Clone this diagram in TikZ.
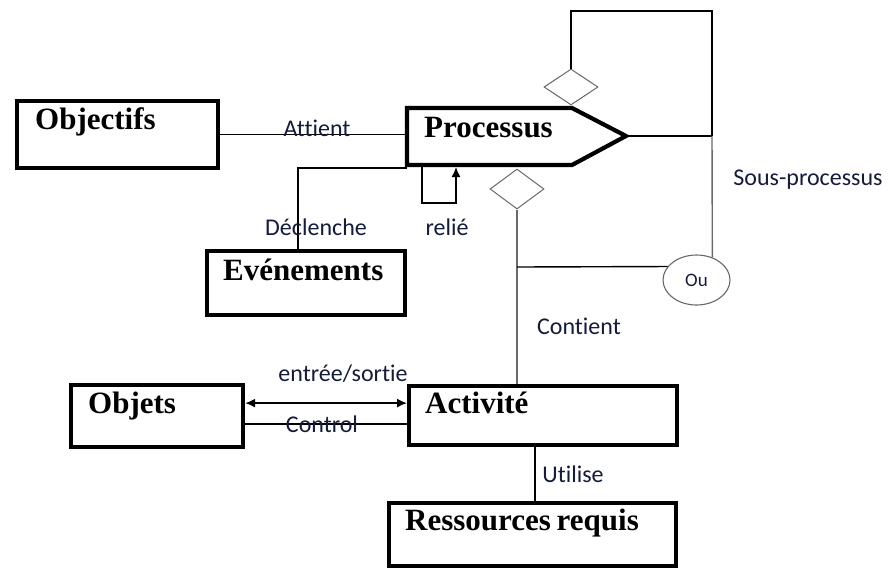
\documentclass[tikz,border=0pt]{standalone}
\usepackage{fontspec}
\setmainfont{Liberation Serif}
\newfontfamily\lblfont[Ligatures=NoCommon]{Carlito}
\usetikzlibrary{arrows.meta,shapes.geometric}
\definecolor{lblc}{RGB}{20,28,60}
\definecolor{linegray}{RGB}{105,105,105}
\begin{document}
\begin{tikzpicture}[x=1pt,y=-1pt,
  box/.style={draw, line width=4.2pt, rectangle, inner sep=0pt, anchor=north west},
  boxtext/.style={anchor=base west, inner sep=0pt, font=\fontsize{31}{32}\selectfont\bfseries},
  lbl/.style={font=\lblfont\fontsize{24}{26}\selectfont, text=lblc, inner sep=0pt},
  conn/.style={line width=1.4pt},
  gconn/.style={line width=1.4pt, draw=linegray},
  dia/.style={draw=linegray, diamond, line width=1pt, minimum width=54pt, inner sep=0pt},
  tip/.style={-{Latex[length=10pt,width=9pt]}},
  dtip/.style={{Latex[length=10pt,width=9pt]}-{Latex[length=10pt,width=9pt]}},
]
\useasboundingbox (0,0) rectangle (888,568);
\fill[white] (0,0) rectangle (888,568);

% boxes
\node[box, minimum width=201pt, minimum height=67pt] (obj) at (15,99) {};
\node[box, minimum width=198pt, minimum height=64pt] (ev) at (205,249) {};
\node[box, minimum width=172pt, minimum height=62pt] (objs) at (69,383) {};
\node[box, minimum width=268pt, minimum height=59pt] (act) at (407,384) {};
\node[box, minimum width=287pt, minimum height=63pt] (res) at (387,501) {};

% Processus shape
\draw[line width=4.2pt, line join=miter]
  (407,108) coordinate (pnw) -- (572,108) coordinate (ptop) -- (626,136) coordinate (ptip)
  -- (572,165) -- (407,165) coordinate (psw) -- cycle;

% box texts
\node[boxtext] (tobj) at (35,129) {Objectifs};
\node[boxtext] (tproc) at (424,137) {Processus};
\node[boxtext] (tev) at (223,280) {Evénements};
\node[boxtext] (tobjs) at (88,413) {Objets};
\node[boxtext] (tact) at (425,413) {Activité};
\node[boxtext] (tres) at (405,530) {Ressources\kern-2pt\ requis};

% diamonds and Ou
\node[dia, minimum height=36pt] (d1) at (571,87) {};
\node[dia, minimum height=40pt] (d2) at (517,189) {};
\node[draw=linegray, ellipse, line width=1.1pt, minimum width=67pt, minimum height=50pt, inner sep=0pt,
      font=\lblfont\fontsize{19}{21}\selectfont, text=lblc] (ou) at (696.5,280) {Ou};

% coordinates
\coordinate (sp) at (712,136);
\coordinate (looptr) at (712,11);
\coordinate (jn) at (517,267);
\coordinate (dcl) at (298,168);
\coordinate (rl1) at (422,167);
\coordinate (rl2) at (456,167);

% Attient
\draw[conn] (obj.east) -- (obj.east -| pnw);
% Sous-processus loop
\draw[conn] (d1.north) |- (looptr) -- (sp);
\draw[conn] (ptip) -- (sp);
\draw[gconn] (sp) -- (ou.55);
% Déclenche
\draw[conn] (ev.north -| dcl) -- (dcl) -- (dcl -| psw);
% relié
\draw[conn, tip] (rl1) -- ++(0,36) -| (rl2);
% Contient
\draw[gconn] (d2.south) -- (d2.south |- act.north);
\draw[conn] (jn) -- (ou.155.6);
% Objets - Activité
\draw[conn, dtip] ([yshift=13pt]objs.east) -- ([yshift=13pt]objs.east -| act.west);
\draw[conn] ([yshift=-8pt]objs.east) -- ([yshift=-8pt]objs.east -| act.west);
% Utilise
\draw[conn] ([xshift=-8pt]act.south) -- ([xshift=-8pt]act.south |- res.north);

% labels
\node[lbl] (lat) at (317,128) {Attient};
\node[lbl] (ldc) at (316,227) {Déclenche};
\node[lbl] (lre) at (447,227) {relié};
\node[lbl] (lsp) at (808,180) {Sous-processus};
\node[lbl] (lco) at (579,326) {Contient};
\node[lbl] (les) at (343,374) {entrée/sortie};
\node[lbl] (lct) at (322,424) {Control};
\node[lbl] (lut) at (573,474) {Utilise};
\end{tikzpicture}
\end{document}
